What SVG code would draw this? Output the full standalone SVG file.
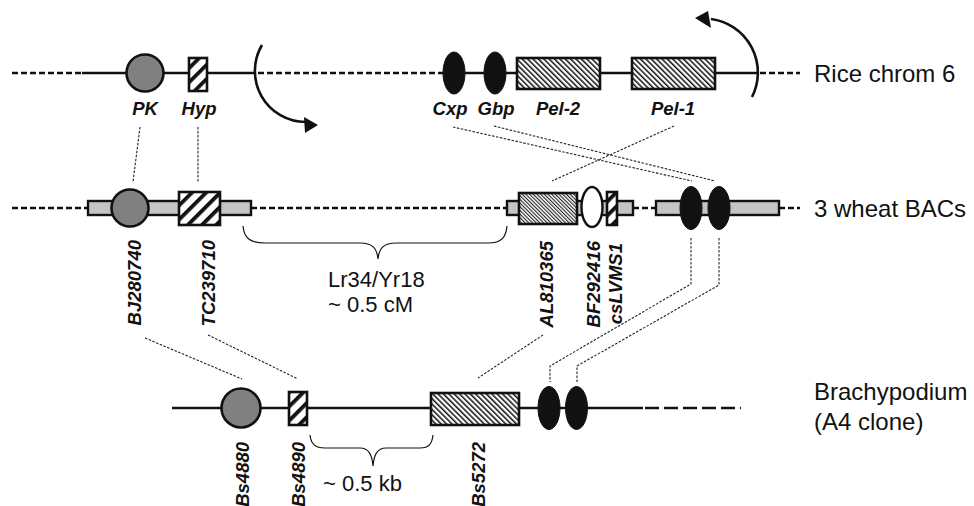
<svg xmlns="http://www.w3.org/2000/svg" width="974" height="506" viewBox="0 0 974 506">
  <defs>
    <!-- coarse forward-slash hatching -->
    <pattern id="hatchCoarse" patternUnits="userSpaceOnUse" width="10" height="10" patternTransform="rotate(45)">
      <rect width="10" height="10" fill="#fff"/>
      <rect x="0" y="0" width="3.8" height="10" fill="#111"/>
    </pattern>
    <!-- medium back-slash hatching -->
    <pattern id="hatchMed" patternUnits="userSpaceOnUse" width="3.8" height="10" patternTransform="rotate(-45)">
      <rect width="3.8" height="10" fill="#fff"/>
      <rect x="0" y="0" width="1.5" height="10" fill="#111"/>
    </pattern>
    <!-- fine back-slash hatching -->
    <pattern id="hatchFine" patternUnits="userSpaceOnUse" width="2.6" height="10" patternTransform="rotate(-45)">
      <rect width="2.6" height="10" fill="#fff"/>
      <rect x="0" y="0" width="1.1" height="10" fill="#222"/>
    </pattern>
  </defs>
  <style>
    .solid { stroke: #111; stroke-width: 2.6; fill: none; }
    .dash { stroke: #111; stroke-width: 2.6; fill: none; stroke-dasharray: 6 3; }
    .dashlong { stroke: #111; stroke-width: 2.6; fill: none; stroke-dasharray: 14 5; }
    .bar { fill: #c4c4c4; stroke: #111; stroke-width: 2.4; }
    .gray { fill: #808080; stroke: #111; stroke-width: 2.6; }
    .black { fill: #111; stroke: #111; stroke-width: 1; }
    .open { fill: #fff; stroke: #111; stroke-width: 2.4; }
    .box { stroke: #111; stroke-width: 2.6; }
    .link { stroke: #222; stroke-width: 1.1; fill: none; stroke-dasharray: 2.5 1.5; }
    .brace { stroke: #111; stroke-width: 1.2; fill: none; }
    .lbl { font-family: "Liberation Sans", Arial, sans-serif; font-size: 18.5px; font-weight: bold; font-style: italic; fill: #111; }
    .row { font-family: "Liberation Sans", Arial, sans-serif; font-size: 24px; fill: #111; }
    .note { font-family: "Liberation Sans", Arial, sans-serif; font-size: 22px; fill: #111; }
  </style>

  <!-- backbones -->
  <g id="backbones">
    <line class="dash" x1="12" y1="73" x2="82" y2="73"/>
    <line class="solid" x1="82" y1="73" x2="256" y2="73"/>
    <line class="dash" x1="258" y1="73" x2="440" y2="73"/>
    <line class="solid" x1="440" y1="73" x2="758" y2="73"/>
    <line class="dash" x1="760" y1="73" x2="800" y2="73"/>

    <line class="dash" x1="12" y1="208" x2="88" y2="208"/>
    <line class="dash" x1="251" y1="208" x2="507" y2="208"/>
    <line class="dash" x1="633" y1="208" x2="656" y2="208"/>
    <line class="dash" x1="779" y1="208" x2="800" y2="208"/>
    <rect class="bar" x="88" y="201" width="163" height="14"/>
    <rect class="bar" x="507" y="201" width="126" height="14"/>
    <rect class="bar" x="656" y="201" width="123" height="14"/>

    <line class="solid" x1="172" y1="408" x2="643" y2="408"/>
    <line class="dashlong" x1="645" y1="408" x2="741" y2="408"/>
  </g>

  <!-- inversion arrows -->
  <g id="inversion">
    <path class="solid" d="M 262 45 A 51 51 0 0 0 306 122"/>
    <polygon points="318,125 304,117 305,133" fill="#111"/>
    <path class="solid" d="M 752 97 A 54 54 0 0 0 711 19"/>
    <polygon points="695,18 708,11 711,28" fill="#111"/>
  </g>

  <!-- connectors -->
  <g id="connectors">
    <line class="link" x1="140" y1="127" x2="133" y2="182"/>
    <line class="link" x1="198" y1="127" x2="198" y2="182"/>
    <line class="link" x1="453" y1="127" x2="692" y2="181"/>
    <line class="link" x1="494" y1="126" x2="715" y2="181"/>
    <line class="link" x1="674" y1="126" x2="552" y2="181"/>

    <line class="link" x1="145" y1="338" x2="242" y2="379"/>
    <line class="link" x1="208" y1="335" x2="298" y2="379"/>
    <line class="link" x1="543" y1="335" x2="478" y2="378"/>
    <polyline class="link" points="691,238 691,284 550,366 550,382"/>
    <polyline class="link" points="719,238 719,285 577,366 577,382"/>
  </g>

  <!-- rice chromosome 6 -->
  <g id="rice-PK">
    <circle class="gray" cx="145" cy="73" r="18.5"/>
    <text class="lbl" x="145" y="115" text-anchor="middle">PK</text>
  </g>
  <g id="rice-Hyp">
    <rect class="box" x="189" y="58" width="18" height="33" fill="url(#hatchCoarse)"/>
    <text class="lbl" x="199" y="115" text-anchor="middle">Hyp</text>
  </g>
  <g id="rice-Cxp">
    <ellipse class="black" cx="454" cy="73" rx="11" ry="21"/>
    <text class="lbl" x="450" y="115" text-anchor="middle">Cxp</text>
  </g>
  <g id="rice-Gbp">
    <ellipse class="black" cx="495" cy="73" rx="11" ry="21"/>
    <text class="lbl" x="496" y="115" text-anchor="middle">Gbp</text>
  </g>
  <g id="rice-Pel2">
    <rect class="box" x="517" y="58" width="83" height="31" fill="url(#hatchMed)"/>
    <text class="lbl" x="558" y="115" text-anchor="middle">Pel-2</text>
  </g>
  <g id="rice-Pel1">
    <rect class="box" x="632" y="58" width="83" height="31" fill="url(#hatchMed)"/>
    <text class="lbl" x="673" y="115" text-anchor="middle">Pel-1</text>
  </g>
  <g id="rice-label">
    <text class="row" x="814" y="82">Rice chrom 6</text>
  </g>

  <!-- wheat BACs -->
  <g id="wheat-BJ280740">
    <circle class="gray" cx="130" cy="208" r="18.5"/>
    <text class="lbl" x="141" y="240" text-anchor="end" transform="rotate(-90 141 240)">BJ280740</text>
  </g>
  <g id="wheat-TC239710">
    <rect class="box" x="179" y="192" width="41" height="33" fill="url(#hatchCoarse)"/>
    <text class="lbl" x="215" y="240" text-anchor="end" transform="rotate(-90 215 240)">TC239710</text>
  </g>
  <g id="wheat-AL810365">
    <rect class="box" x="519" y="193" width="58" height="31" fill="url(#hatchFine)"/>
    <text class="lbl" x="553" y="241" text-anchor="end" transform="rotate(-90 553 241)">AL810365</text>
  </g>
  <g id="wheat-BF292416">
    <ellipse class="open" cx="592" cy="207" rx="10.5" ry="20"/>
    <text class="lbl" x="600" y="241" text-anchor="end" transform="rotate(-90 600 241)">BF292416</text>
  </g>
  <g id="wheat-csLVMS1">
    <rect class="box" x="607" y="192" width="10" height="33" fill="url(#hatchCoarse)"/>
    <text class="lbl" x="622" y="243" text-anchor="end" transform="rotate(-90 622 243)">csLVMS1</text>
  </g>
  <g id="wheat-ellipses">
    <ellipse class="black" cx="691" cy="208" rx="11" ry="21.5"/>
    <ellipse class="black" cx="719" cy="208" rx="11" ry="21.5"/>
  </g>
  <g id="wheat-interval">
    <path class="brace" d="M 243 226 C 244 238 250 243 265 243 L 360 243 C 372 243 377 248 378 259 C 379 248 384 243 396 243 L 488 243 C 502 243 506 237 507 226"/>
    <text class="note" x="328" y="287">Lr34/Yr18</text>
    <text class="note" x="328" y="312">~ 0.5 cM</text>
  </g>
  <g id="wheat-label">
    <text class="row" x="814" y="217">3 wheat BACs</text>
  </g>

  <!-- Brachypodium -->
  <g id="brachy-Bs4880">
    <circle class="gray" cx="241" cy="408" r="19.5"/>
    <text class="lbl" x="249" y="442" text-anchor="end" transform="rotate(-90 249 442)">Bs4880</text>
  </g>
  <g id="brachy-Bs4890">
    <rect class="box" x="289" y="392" width="18" height="33" fill="url(#hatchCoarse)"/>
    <text class="lbl" x="305" y="442" text-anchor="end" transform="rotate(-90 305 442)">Bs4890</text>
  </g>
  <g id="brachy-Bs5272">
    <rect class="box" x="431" y="393" width="88" height="32" fill="url(#hatchMed)"/>
    <text class="lbl" x="485" y="442" text-anchor="end" transform="rotate(-90 485 442)">Bs5272</text>
  </g>
  <g id="brachy-ellipses">
    <ellipse class="black" cx="549" cy="408" rx="11" ry="21.5"/>
    <ellipse class="black" cx="576.5" cy="408" rx="11" ry="21.5"/>
  </g>
  <g id="brachy-interval">
    <path class="brace" d="M 310 435 C 311 444 315 448 325 448 L 360 448 C 369 448 372 455 373 466 C 374 455 377 448 386 448 L 420 448 C 429 448 432 444 433 435"/>
    <text class="note" x="323" y="491">~ 0.5 kb</text>
  </g>
  <g id="brachy-label">
    <text class="row" x="814" y="400">Brachypodium</text>
    <text class="row" x="814" y="430">(A4 clone)</text>
  </g>
</svg>
